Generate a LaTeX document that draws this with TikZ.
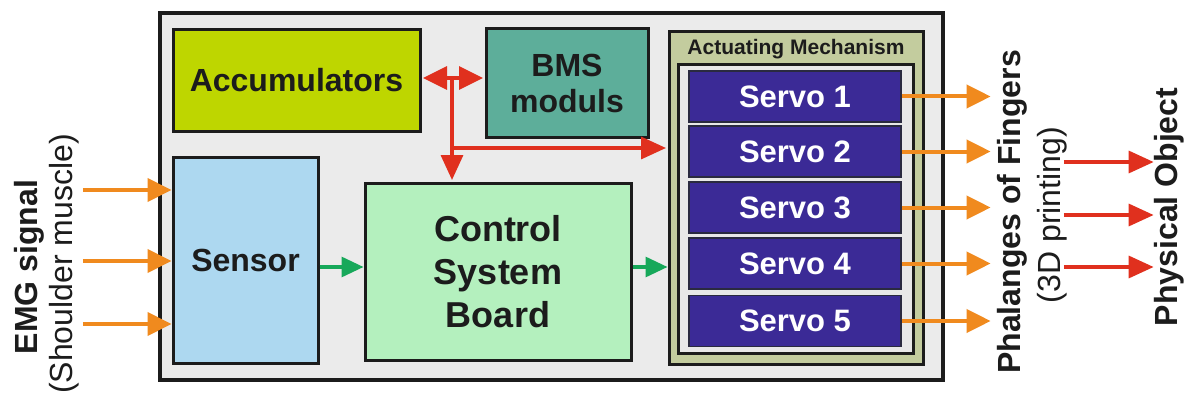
\documentclass[tikz,border=0pt]{standalone}
\usepackage{fontspec}
\setmainfont{Liberation Sans}
\usetikzlibrary{arrows.meta}
\definecolor{outerfill}{HTML}{EBEBEB}
\definecolor{accfill}{HTML}{BED600}
\definecolor{bmsfill}{HTML}{5DAE9A}
\definecolor{actfill}{HTML}{C3CC9E}
\definecolor{innerfill}{HTML}{E8E8E8}
\definecolor{servofill}{HTML}{3B2A96}
\definecolor{servoline}{HTML}{2A2A40}
\definecolor{sensorfill}{HTML}{ADD8F0}
\definecolor{controlfill}{HTML}{B4F0BE}
\definecolor{orangec}{HTML}{F08A1E}
\definecolor{redc}{HTML}{E0301E}
\definecolor{greenc}{HTML}{17A85A}
\definecolor{boxline}{HTML}{1C1C1C}
\begin{document}
\begin{tikzpicture}[x=1pt,y=-1pt,
  box/.style={draw=boxline, line width=3pt, inner sep=0pt, align=center, text=boxline,
    font=\fontsize{32}{36}\selectfont\bfseries},
  servobox/.style={draw=servoline, line width=1.2pt, fill=servofill, text=white, inner sep=0pt,
    minimum width=212pt, minimum height=51pt, font=\fontsize{31}{36}\selectfont\bfseries},
  rottext/.style={rotate=90, anchor=base, inner sep=0pt, text=boxline},
  boldtxt/.style={font=\fontsize{32}{36}\selectfont\bfseries},
  regtxt/.style={font=\fontsize{32}{36}\selectfont},
  oarrow/.style={draw=orangec, line width=4pt, -{Triangle[length=24pt,width=23pt]}},
  rarrow/.style={draw=redc, line width=3.4pt, -{Triangle[length=25pt,width=22pt]}},
  garrow/.style={draw=greenc, line width=3.2pt, -{Triangle[length=22pt,width=20pt]}}
]
\fill[white] (0,0) rectangle (1187,396);
\useasboundingbox (0,0) rectangle (1187,396);

% main boxes
\node[box, fill=outerfill, line width=3.5pt, minimum width=783pt, minimum height=367pt] (outer) at (551.5,196.5) {};
\node[box, fill=accfill, minimum width=247pt, minimum height=101pt] (acc) at (296.5,80.5) {Accumulators};
\node[box, fill=bmsfill, minimum width=162pt, minimum height=108pt] (bms) at (567,83) {BMS\\moduls};
\node[box, fill=actfill, minimum width=254pt, minimum height=332pt] (act) at (796,198) {};
\node[text=boxline, inner sep=0pt, font=\fontsize{21}{24}\selectfont\bfseries] (actlbl) at (796,49) {Actuating Mechanism};
\node[box, fill=innerfill, minimum width=235pt, minimum height=288pt] (actin) at (795.5,209) {};
\node[servobox] (s1) at (795,96.5) {Servo 1};
\node[servobox] (s2) at (795,151.5) {Servo 2};
\node[servobox] (s3) at (795,207.5) {Servo 3};
\node[servobox] (s4) at (795,263.5) {Servo 4};
\node[servobox] (s5) at (795,321) {Servo 5};
\node[box, fill=sensorfill, minimum width=145pt, minimum height=206pt] (sensor) at (245.5,260) {Sensor};
\node[box, fill=controlfill, minimum width=266pt, minimum height=177pt,
  font=\fontsize{36}{43}\selectfont\bfseries] (control) at (498,271.5) {Control\\System\\Board};

% side labels
\node[rottext, boldtxt] (emg1) at (37,267) {EMG signal};
\node[rottext, regtxt] (emg2) at (72,264) {(Shoulder muscle)};
\node[rottext, boldtxt] (phal1) at (1020,212) {Phalanges of Fingers};
\node[rottext, regtxt] (phal2) at (1060,215) {(3D printing)};
\node[rottext, boldtxt] (phys) at (1177,207) {Physical Object};

% EMG inputs
\draw[oarrow] ([xshift=4pt]emg2.south |- 0,190) -- (sensor.west |- 0,190);
\draw[oarrow] ([xshift=4pt]emg2.south |- 0,261) -- (sensor.west |- 0,261);
\draw[oarrow] ([xshift=4pt]emg2.south |- 0,324) -- (sensor.west |- 0,324);

% green signal path
\draw[garrow] (sensor.east |- 0,267) -- (control.west |- 0,267);
\draw[garrow] (control.east |- 0,267) -- (act.west |- 0,267);

% red power bus
\coordinate (j) at (452,78);
\draw[draw=redc, line width=3.4pt, {Triangle[length=24pt,width=23pt]}-{Triangle[length=24pt,width=23pt]}, shorten <=1.5pt, shorten >=1.5pt]
  (acc.east |- j) -- (bms.west |- j);
\draw[rarrow, shorten >=1.5pt] (j) -- (j |- control.north);
\draw[rarrow, shorten >=1.5pt] (j |- 0,148) -- (act.west |- 0,148);

% servo outputs
\foreach \s in {s1,s2,s3,s4,s5}
  \draw[oarrow] (\s.east) -- ([xshift=-6pt]phal1.north |- \s.east);

% to physical object
\foreach \yy in {162,215,267}
  \draw[rarrow] ([xshift=-3pt]phal2.south |- 0,\yy) -- (phys.north |- 0,\yy);
\end{tikzpicture}
\end{document}
